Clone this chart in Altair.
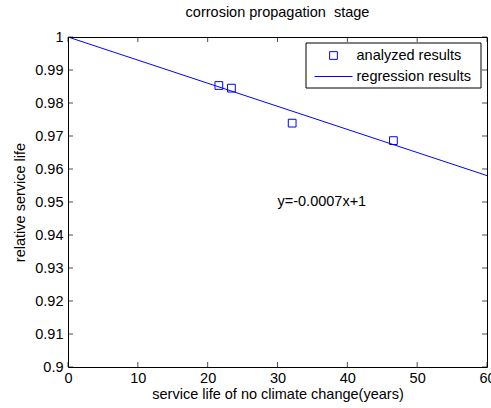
import altair as alt
import pandas as pd

# Analyzed points: service life without climate change vs. relative service life
life_years = [21.6, 23.4, 32.1, 46.6]
relative_life = [0.9853, 0.9845, 0.9739, 0.9686]

# Regression line y = -0.0007x + 1, evaluated at the axis ends
fit_years = [0, 60]
fit_relative = [1.0, 0.958]

x_ticks = [0, 10, 20, 30, 40, 50, 60]
y_ticks = [0.9, 0.91, 0.92, 0.93, 0.94, 0.95, 0.96, 0.97, 0.98, 0.99, 1.0]

series_names = ["analyzed results", "regression results"]
equation_text = "y=-0.0007x+1"
equation_pos = (30, 0.95)

W, H = 419, 330
BLUE = "#0000ff"
FONT = "Liberation Sans"
FS = 14.5

points = pd.DataFrame({"x": life_years, "y": relative_life})
fit = pd.DataFrame({"x": fit_years, "y": fit_relative})
xt = pd.DataFrame({"x": x_ticks})
yt = pd.DataFrame({"y": y_ticks})
eq = pd.DataFrame({"x": [equation_pos[0]], "y": [equation_pos[1]], "t": [equation_text]})

xscale = alt.Scale(domain=[0, 60], nice=False, zero=False)
yscale = alt.Scale(domain=[0.9, 1.0], nice=False, zero=False)

x_axis = alt.Axis(values=x_ticks, ticks=False, domain=False, grid=False, labelPadding=4,
                  labelFontSize=FS, titleFontSize=FS, titleFontWeight="normal",
                  titlePadding=3, labelColor="black", titleColor="black",
                  labelOverlap=False, labelFlush=False,
                  title="service life of no climate change(years)")
y_axis = alt.Axis(values=y_ticks, ticks=False, domain=False, grid=False, labelPadding=5,
                  labelFontSize=FS, titleFontSize=FS, titleFontWeight="normal",
                  titlePadding=7, labelColor="black", titleColor="black", format="~g",
                  labelOverlap=False, labelFlush=False,
                  title="relative service life")

# Every layer shares the same scale and axis definition
X = lambda: alt.X("x:Q", scale=xscale, axis=x_axis)
Y = lambda: alt.Y("y:Q", scale=yscale, axis=y_axis)

line = alt.Chart(fit).mark_line(strokeWidth=1, clip=True, color=BLUE).encode(x=X(), y=Y())

dots = alt.Chart(points).mark_point(shape="square", filled=False, size=60, strokeWidth=1,
                                    opacity=1, color=BLUE).encode(x=X(), y=Y())

label = alt.Chart(eq).mark_text(align="left", baseline="middle", fontSize=FS, font=FONT,
                                color="black").encode(x=X(), y=Y(), text="t:N")

# Inward-pointing tick marks on all four sides
tick_len = 5
tick = dict(color="black", size=tick_len, thickness=1)
xt_bottom = alt.Chart(xt).mark_tick(**tick).encode(x=X(), y=alt.value(H - tick_len / 2))
xt_top = alt.Chart(xt).mark_tick(**tick).encode(x=X(), y=alt.value(tick_len / 2))
yt_left = alt.Chart(yt).mark_tick(**tick).encode(y=Y(), x=alt.value(tick_len / 2))
yt_right = alt.Chart(yt).mark_tick(**tick).encode(y=Y(), x=alt.value(W - tick_len / 2))

# Boxed legend in the upper right corner
legend_df = pd.DataFrame({"name": series_names})
first = "datum.name == 'analyzed results'"
second = "datum.name == 'regression results'"
box = alt.Chart(legend_df).transform_filter(first).mark_rect(
    fill="white", stroke="black", strokeWidth=1).encode(
    x=alt.value(238), x2=alt.value(413), y=alt.value(6), y2=alt.value(51))
key_square = alt.Chart(legend_df).transform_filter(first).mark_point(
    shape="square", filled=False, size=60, strokeWidth=1, color=BLUE, opacity=1).encode(
    x=alt.value(265.5), y=alt.value(18.5))
key_line = alt.Chart(legend_df).transform_filter(second).mark_rule(
    color=BLUE, strokeWidth=1).encode(
    x=alt.value(246.5), x2=alt.value(284.5), y=alt.value(39.5))
text_style = dict(align="left", baseline="middle", fontSize=FS, font=FONT, color="black")
key_text1 = alt.Chart(legend_df).transform_filter(first).mark_text(**text_style).encode(
    x=alt.value(288.5), y=alt.value(18.5), text="name:N")
key_text2 = alt.Chart(legend_df).transform_filter(second).mark_text(**text_style).encode(
    x=alt.value(288.5), y=alt.value(39.5), text="name:N")

chart = alt.layer(line, dots, label, xt_bottom, xt_top, yt_left, yt_right,
                  box, key_square, key_line, key_text1, key_text2).properties(
    width=W, height=H,
    title=alt.TitleParams("corrosion propagation\u00a0\u00a0stage", fontSize=FS, fontWeight="normal",
                          font=FONT, color="black", offset=9),
    autosize=alt.AutoSizeParams(type="none"),
    padding={"left": 68, "top": 37, "right": 4, "bottom": 41},
).configure(font=FONT).configure_view(
    stroke="black", strokeWidth=1).configure_axis(
    labelFont=FONT, titleFont=FONT, labelOverlap=False)

chart.save("out.html", embed_options={"renderer": "svg", "actions": False})
